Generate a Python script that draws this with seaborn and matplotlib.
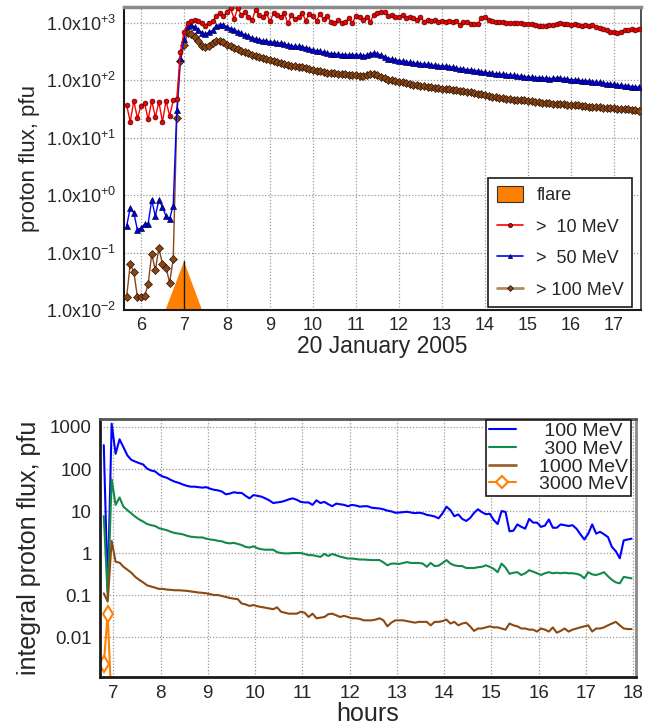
import numpy as np
import matplotlib
matplotlib.use("Agg")
import matplotlib.pyplot as plt
import seaborn as sns
from matplotlib.lines import Line2D
from matplotlib.patches import Patch
from matplotlib.ticker import MultipleLocator, LogLocator, NullFormatter

sns.set_theme(style="white")
plt.rcParams["font.family"] = ["Liberation Sans", "DejaVu Sans"]
plt.rcParams["mathtext.fontset"] = "custom"
plt.rcParams["mathtext.rm"] = "Liberation Sans"
plt.rcParams["mathtext.it"] = "Liberation Sans:italic"
plt.rcParams["mathtext.bf"] = "Liberation Sans:bold"
plt.rcParams["mathtext.default"] = "regular"

# ---------------- GOES integral proton flux, 5-minute cadence ----------------
goes_start_hour = 5 + 40 / 60
goes_cadence_hours = 5 / 60

flux_gt10 = [
    37, 19, 44, 22, 36, 40, 21, 44, 23, 42, 19, 44, 24, 45, 48,
    316, 690, 1000, 1070, 1120, 1070, 1000, 890, 1000, 1070, 1320, 1480, 1320, 1550,
    1820, 1170, 1820, 1380, 1550, 1260, 1120, 1700, 1380, 1260, 1480, 1070, 1480, 1380, 1260, 1480,
    980, 1380, 1150, 1260, 1480, 1100, 1450, 1320, 1100, 1450, 1150, 1320, 1050, 980, 1120,
    1000, 1050, 1200, 1000, 1320, 1260, 1120, 1290, 1050, 1380, 1480, 1580, 1550, 1320, 1380,
    1260, 1290, 1380, 1200, 1290, 1200, 1120, 1260, 1050, 1120, 1100, 1120, 1050, 1100, 1050,
    1100, 1020, 1100, 930, 1050, 1040, 960, 950, 960, 1230, 1260, 1120, 1100, 1020, 1050,
    1020, 1000, 990, 980, 980, 980, 970, 970, 960, 930, 890, 870, 890, 930, 930,
    960, 980, 960, 960, 930, 960, 930, 890, 930, 890, 930, 850, 810, 780, 740,
    690, 710, 660, 710, 740, 760, 780, 760, 780,
]

flux_gt50 = [
    0.29, 0.60, 0.49, 0.25, 0.27, 0.31, 0.32, 0.83, 0.43, 0.83, 0.62, 0.43, 0.39, 0.66,
    31, 250, 520, 890, 930, 840, 760, 680, 630, 700, 740, 890, 930, 920, 850,
    800, 760, 700, 660, 620, 590, 550, 530, 510, 490, 480, 470, 460, 450, 445,
    430, 410, 400, 390, 390, 380, 370, 355, 340, 330, 320, 310, 300, 290, 290,
    285, 280, 280, 275, 280, 275, 275, 270, 275, 290, 300, 290, 275, 260, 240,
    235, 228, 220, 215, 210, 205, 200, 198, 195, 192, 190, 186, 182, 180, 178,
    176, 174, 170, 165, 158, 156, 154, 152, 148, 145, 142, 138, 135, 132, 130,
    128, 127, 126, 125, 122, 120, 118, 116, 114, 113, 112, 111, 110, 109, 107,
    108, 110, 109, 107, 104, 103, 102, 100, 99, 97, 96, 95, 93, 92, 90,
    88, 86, 85, 83, 82, 81, 80, 78, 77, 76,
]

flux_gt100 = [
    0.017, 0.063, 0.046, 0.017, 0.017, 0.0175, 0.028, 0.096, 0.049, 0.12, 0.063, 0.054, 0.030, 0.078,
    22, 220, 415, 660, 630, 575, 480, 400, 380, 400, 445, 480, 490, 460, 420,
    390, 370, 345, 330, 310, 295, 280, 270, 255, 245, 235, 225, 215, 205, 200,
    190, 185, 178, 175, 172, 168, 162, 158, 152, 148, 143, 140, 137, 135, 132,
    130, 128, 127, 125, 123, 122, 121, 120, 122, 127, 128, 123, 115, 110, 103,
    100, 97, 95, 92, 90, 87, 84, 82, 80, 79, 77, 76, 74, 73, 72,
    71, 70, 68, 67, 65, 64, 63, 62, 60, 58, 57, 55, 54, 52, 51,
    50, 49, 48, 47, 46, 46, 45, 45, 44, 43, 42, 42, 41, 40, 40,
    39, 39, 38.5, 38, 37.5, 37, 37, 36.5, 36, 35.5, 35, 35, 34.5, 34, 33.5,
    33, 33, 32.5, 32, 32, 31.5, 31.5, 31, 30, 29.5,
]

# flare time profile (hours) and peak marker height
flare_start, flare_peak, flare_end = 6.57, 7.0, 7.42
flare_peak_level = 0.07

goes_labels = [">  10 MeV", ">  50 MeV", "> 100 MeV"]

# ---------------- neutron-monitor derived spectra, 5-minute cadence ----------------
nm_start_hour = 6.8
nm_cadence_hours = 5 / 60

flux_100mev = [
    370, 0.12, 1200, 230, 510, 330, 210, 165, 150, 138, 128, 102, 92, 88, 74,
    66, 62, 55, 50, 47, 43, 40, 38, 38, 37, 36, 37, 34, 32, 31,
    29, 25, 26, 28, 27, 27, 23, 20, 24, 23, 22, 20, 18, 15.5, 16,
    16.5, 17.5, 19, 20, 18.5, 16.5, 16, 16, 14, 18, 15.5, 16.5, 14.5, 13, 15,
    14.5, 14, 13, 14, 13.5, 12.7, 13, 13, 12, 11.7, 11.5, 11, 10.2, 9.8, 9.1,
    9.2, 9.4, 9.6, 9.2, 8.9, 9.1, 8.8, 8.1, 7.8, 7.4, 6.7, 8.8, 12.7, 10.5, 7.5,
    8.3, 6.5, 5.8, 6.8, 9, 11, 9.4, 8.4, 8.6, 6.1, 4.9, 10, 9.5, 3.3, 3.4,
    4.8, 4.2, 3.8, 6.5, 5.3, 5.3, 4.2, 4.5, 6.3, 4.0, 4.0, 4.8, 4.6, 4.4, 4.6,
    3.8, 2.8, 2.1, 2.9, 4.8, 2.9, 3.2, 2.8, 2.4, 1.4, 1.1, 0.75, 2.0, 2.1, 2.2,
]

flux_300mev = [
    7.6, 0.09, 57, 14, 21, 12.6, 10.5, 8.7, 7.3, 6.3, 5.6, 4.9, 4.6, 4.4, 3.9,
    3.7, 3.5, 3.2, 3.0, 2.9, 2.8, 2.6, 2.45, 2.4, 2.35, 2.35, 2.2, 2.1, 2.05, 1.95,
    1.9, 1.75, 1.7, 1.75, 1.65, 1.55, 1.4, 1.35, 1.45, 1.3, 1.23, 1.2, 1.2, 1.2, 1.05,
    1.0, 0.98, 0.98, 1.0, 1.0, 1.0, 0.95, 0.89, 0.89, 0.85, 0.81, 0.95, 0.85, 0.95, 0.88,
    0.82, 0.78, 0.74, 0.74, 0.72, 0.7, 0.7, 0.69, 0.68, 0.68, 0.68, 0.6, 0.51, 0.56, 0.56,
    0.55, 0.58, 0.61, 0.58, 0.58, 0.58, 0.56, 0.47, 0.58, 0.49, 0.5, 0.58, 0.68, 0.56, 0.51,
    0.49, 0.49, 0.44, 0.44, 0.44, 0.46, 0.47, 0.51, 0.47, 0.42, 0.35, 0.56, 0.45, 0.32, 0.34,
    0.35, 0.30, 0.33, 0.39, 0.36, 0.33, 0.30, 0.33, 0.35, 0.33, 0.34, 0.33, 0.34, 0.33, 0.33,
    0.32, 0.30, 0.25, 0.35, 0.31, 0.30, 0.32, 0.35, 0.28, 0.23, 0.20, 0.19, 0.27, 0.26, 0.25,
]

flux_1000mev = [
    0.11, 0.07, 1.95, 0.62, 0.59, 0.47, 0.40, 0.34, 0.27, 0.23, 0.20, 0.17, 0.16, 0.15, 0.14,
    0.14, 0.135, 0.133, 0.13, 0.13, 0.128, 0.126, 0.122, 0.118, 0.115, 0.113, 0.11, 0.105, 0.10, 0.10,
    0.095, 0.09, 0.085, 0.082, 0.08, 0.063, 0.06, 0.055, 0.058, 0.054, 0.052, 0.05, 0.048, 0.046, 0.051,
    0.04, 0.038, 0.036, 0.036, 0.036, 0.04, 0.038, 0.03, 0.036, 0.028, 0.029, 0.03, 0.035, 0.036, 0.033,
    0.03, 0.032, 0.03, 0.028, 0.028, 0.027, 0.025, 0.025, 0.025, 0.026, 0.028, 0.025, 0.018, 0.022, 0.025,
    0.025, 0.025, 0.024, 0.023, 0.022, 0.023, 0.023, 0.023, 0.019, 0.023, 0.023, 0.024, 0.026, 0.021, 0.023,
    0.019, 0.021, 0.022, 0.018, 0.014, 0.016, 0.016, 0.017, 0.018, 0.017, 0.017, 0.016, 0.015, 0.021, 0.019,
    0.018, 0.016, 0.016, 0.015, 0.015, 0.0135, 0.016, 0.015, 0.0135, 0.017, 0.0127, 0.014, 0.016, 0.0135, 0.015,
    0.016, 0.017, 0.018, 0.019, 0.0135, 0.016, 0.016, 0.017, 0.019, 0.021, 0.023, 0.019, 0.016, 0.0155, 0.0155,
]

flux_3000mev = [0.0023, 0.036, 0.0002]

nm_labels = [" 100 MeV", " 300 MeV", "1000 MeV", "3000 MeV"]

# ---------------- figure ----------------
fig = plt.figure(figsize=(6.57, 7.27), dpi=100)
ax1 = fig.add_axes([124 / 657, 1 - 310 / 727, 517 / 657, 303 / 727])
ax2 = fig.add_axes([100 / 657, 1 - 677 / 727, 536 / 657, 258 / 727])

RED, BLUE, BROWN = "#ff0000", "#0000ff", "#8b4513"
ORANGE = "#ff8000"

# ---- upper panel: GOES channels ----
t_goes = goes_start_hour + np.arange(len(flux_gt10)) * goes_cadence_hours
ax1.set_yscale("log")

ax1.fill([flare_start, flare_peak, flare_end], [0.01, flare_peak_level, 0.01],
         color=ORANGE, lw=0, zorder=2)
ax1.plot([flare_peak, flare_peak], [0.01, flare_peak_level], color="k", lw=1.0, zorder=3)

sns.lineplot(x=t_goes, y=flux_gt100, ax=ax1, color=BROWN, lw=1.0, marker="D",
             markersize=3.6, markerfacecolor="#8b4513", markeredgecolor="#1a0a00",
             markeredgewidth=0.45, estimator=None, legend=False, zorder=4)
sns.lineplot(x=t_goes, y=flux_gt50, ax=ax1, color=BLUE, lw=1.0, marker="^",
             markersize=3.8, markerfacecolor="#0000dd", markeredgecolor="#000030",
             markeredgewidth=0.45, estimator=None, legend=False, zorder=5)
sns.lineplot(x=t_goes, y=flux_gt10, ax=ax1, color=RED, lw=1.0, marker="o",
             markersize=3.5, markerfacecolor="#ee0000", markeredgecolor="#400000",
             markeredgewidth=0.45, estimator=None, legend=False, zorder=6)

ax1.set_xlim(5.605, 17.63)
ax1.set_ylim(0.01, 1897)
ax1.set_xticks(range(6, 18))
ax1.xaxis.set_minor_locator(MultipleLocator(1 / 12))
decades = [1e-2, 1e-1, 1e0, 1e1, 1e2, 1e3]
ax1.set_yticks(decades)
ax1.set_yticklabels([r"$1.0x10^{-2}$", r"$1.0x10^{-1}$", r"$1.0x10^{+0}$",
                     r"$1.0x10^{+1}$", r"$1.0x10^{+2}$", r"$1.0x10^{+3}$"])
ax1.yaxis.set_minor_locator(LogLocator(base=10, subs=np.arange(2, 10)))
ax1.yaxis.set_minor_formatter(NullFormatter())
ax1.tick_params(axis="both", which="major", direction="out", labelsize=13,
                color="k", length=4, width=1, pad=2)
ax1.tick_params(axis="both", which="minor", direction="out", color="k",
                length=2.2, width=0.7)
ax1.tick_params(axis="x", which="major", length=3)
ax1.grid(True, which="major", ls=(0, (1, 1.5)), color="#9a9a9a", lw=0.9)
ax1.set_ylabel("proton flux, pfu", fontsize=16, labelpad=4)
ax1.set_xlabel("20 January 2005", fontsize=16.5, labelpad=1)
for side, col, lw in [("left", "k", 1.5), ("bottom", "k", 1.5),
                      ("top", "#8a8a8a", 2.5), ("right", "#333333", 1.2)]:
    ax1.spines[side].set_color(col)
    ax1.spines[side].set_linewidth(lw)

h1 = [
    Patch(facecolor=ORANGE, edgecolor="#333333", lw=0.8, label="flare"),
    Line2D([], [], color=RED, lw=1.2, marker="o", ms=3, mfc="#dd0000", mec="#300000",
           mew=0.5, label=goes_labels[0]),
    Line2D([], [], color=BLUE, lw=1.2, marker="^", ms=3, mfc="#0000cc", mec="#000022",
           mew=0.5, label=goes_labels[1]),
    Line2D([], [], color="#b08a68", lw=2.0, marker="D", ms=3, mfc="#8b4513", mec="#1a0a00",
           mew=0.5, label=goes_labels[2]),
]
leg1 = ax1.legend(handles=h1, loc="lower right", bbox_to_anchor=(0.983, 0.01),
                  fontsize=13, frameon=True, fancybox=False, edgecolor="k",
                  framealpha=1, borderpad=0.45, labelspacing=0.72, handlelength=1.45,
                  handleheight=1.05, handletextpad=0.75, borderaxespad=0)
leg1.get_frame().set_linewidth(1.2)

# ---- lower panel: neutron-monitor spectra ----
t_nm = nm_start_hour + np.arange(len(flux_100mev)) * nm_cadence_hours
t_nm3000 = nm_start_hour + np.arange(len(flux_3000mev)) * nm_cadence_hours
ax2.set_yscale("log")

GREEN, BROWN2 = "#118a4a", "#8b4a12"
sns.lineplot(x=t_nm, y=flux_100mev, ax=ax2, color=BLUE, lw=1.5, estimator=None,
             legend=False)
sns.lineplot(x=t_nm, y=flux_300mev, ax=ax2, color=GREEN, lw=1.5, estimator=None,
             legend=False)
sns.lineplot(x=t_nm, y=flux_1000mev, ax=ax2, color=BROWN2, lw=1.5, estimator=None,
             legend=False)
sns.lineplot(x=t_nm3000, y=flux_3000mev, ax=ax2, color=ORANGE, lw=1.5, marker="d",
             markersize=8, markerfacecolor="white", markeredgecolor=ORANGE,
             markeredgewidth=1.5, estimator=None, legend=False)

ax2.set_xlim(6.72, 18.06)
ax2.set_ylim(0.00112, 1550)
ax2.set_xticks(range(7, 19))
ax2.xaxis.set_minor_locator(MultipleLocator(0.1))
ax2.set_yticks([0.01, 0.1, 1, 10, 100, 1000])
ax2.set_yticklabels(["0.01", "0.1", "1", "10", "100", "1000"])
ax2.yaxis.set_minor_locator(LogLocator(base=10, subs=np.arange(2, 10)))
ax2.yaxis.set_minor_formatter(NullFormatter())
ax2.tick_params(axis="both", which="major", direction="out", labelsize=13.5,
                color="k", length=4, width=1, pad=2)
ax2.tick_params(axis="both", which="minor", direction="out", color="k",
                length=2, width=0.7)
ax2.grid(True, which="major", ls=(0, (1, 1.5)), color="#9a9a9a", lw=0.9)
ax2.set_ylabel("integral proton flux, pfu", fontsize=18, labelpad=6)
ax2.set_xlabel("hours", fontsize=18, labelpad=0)
for side, col, lw in [("left", "k", 2.0), ("bottom", "k", 2.0),
                      ("top", "#555555", 2.0), ("right", "#8a8a8a", 2.0)]:
    ax2.spines[side].set_color(col)
    ax2.spines[side].set_linewidth(lw)

h2 = [
    Line2D([], [], color=BLUE, lw=1.5, label=nm_labels[0]),
    Line2D([], [], color=GREEN, lw=1.5, label=nm_labels[1]),
    Line2D([], [], color="#a0622d", lw=2.0, label=nm_labels[2]),
    Line2D([], [], color=ORANGE, lw=1.5, marker="D", ms=6, mfc="white", mec=ORANGE,
           mew=1.5, label=nm_labels[3]),
]
leg2 = ax2.legend(handles=h2, loc="upper right", bbox_to_anchor=(0.991, 0.997),
                  fontsize=14, frameon=True, fancybox=False, edgecolor="k",
                  framealpha=1, borderpad=0.15, labelspacing=0.0, handlelength=1.4,
                  handletextpad=1.2, borderaxespad=0)
leg2.get_frame().set_linewidth(1.2)

fig.savefig("out.png", dpi=100)
